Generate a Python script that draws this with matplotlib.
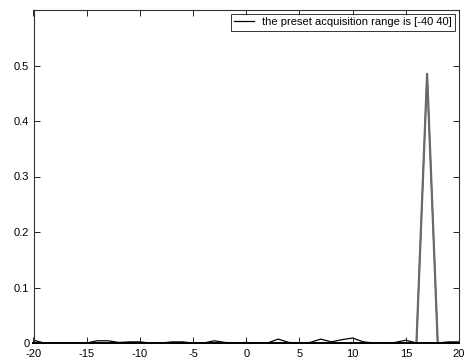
import matplotlib
matplotlib.use("Agg")
import matplotlib.pyplot as plt
import numpy as np

plt.rcParams['font.family'] = ['Liberation Sans', 'DejaVu Sans']

x = np.arange(-20, 21)
y = np.array([
    0.005, 0.0, 0.0, 0.0, 0.0, 0.0, 0.004, 0.004, 0.001, 0.002,   # -20..-11
    0.002, 0.0, 0.0, 0.002, 0.002, 0.0, 0.0, 0.004, 0.001, 0.0,   # -10..-1
    0.001, 0.0, 0.0, 0.007, 0.001, 0.0, 0.001, 0.007, 0.002, 0.006,  # 0..9
    0.009, 0.002, 0.0, 0.0, 0.001, 0.005, 0.0, 0.485, 0.0, 0.002,  # 10..19
    0.002,  # 20
])
legend_label = "the preset acquisition range is [-40 40]"
xticks = [-20, -15, -10, -5, 0, 5, 10, 15, 20]
yticks = [0, 0.1, 0.2, 0.3, 0.4, 0.5]

fig = plt.figure(figsize=(4.66, 3.64), dpi=100)
ax = fig.add_axes([33.5/466, 21/364, (459-33.5)/466, (343-10)/364])
line, = ax.plot(x, y, color='black', lw=0.9, label=legend_label)
ax.plot(x[36:39], y[36:39], color='#6a6a6a', lw=1.6)

ax.set_xlim(-20, 20)
ax.set_ylim(0, 0.6)
ax.set_xticks(xticks)
ax.set_xticklabels([str(t) for t in xticks])
ax.set_yticks(yticks)
ax.set_yticklabels(['0', '0.1', '0.2', '0.3', '0.4', '0.5'])
ax.tick_params(direction='in', length=4, width=0.6, top=True, right=True,
               labelsize=8, colors='black')
ax.tick_params(axis='x', pad=4)
ax.tick_params(axis='y', pad=3)
for s in ax.spines.values():
    s.set_linewidth(0.8)
    s.set_color('#333333')
ax.spines['bottom'].set_linewidth(1.4)
ax.spines['bottom'].set_color('black')

leg = ax.legend(handles=[line], loc='upper right', fontsize=8, frameon=True,
                fancybox=False, edgecolor='black', handlelength=1.8,
                borderpad=0.3, handletextpad=0.7, borderaxespad=0.35)
leg.get_frame().set_linewidth(0.7)

fig.savefig("out.png", dpi=100)
